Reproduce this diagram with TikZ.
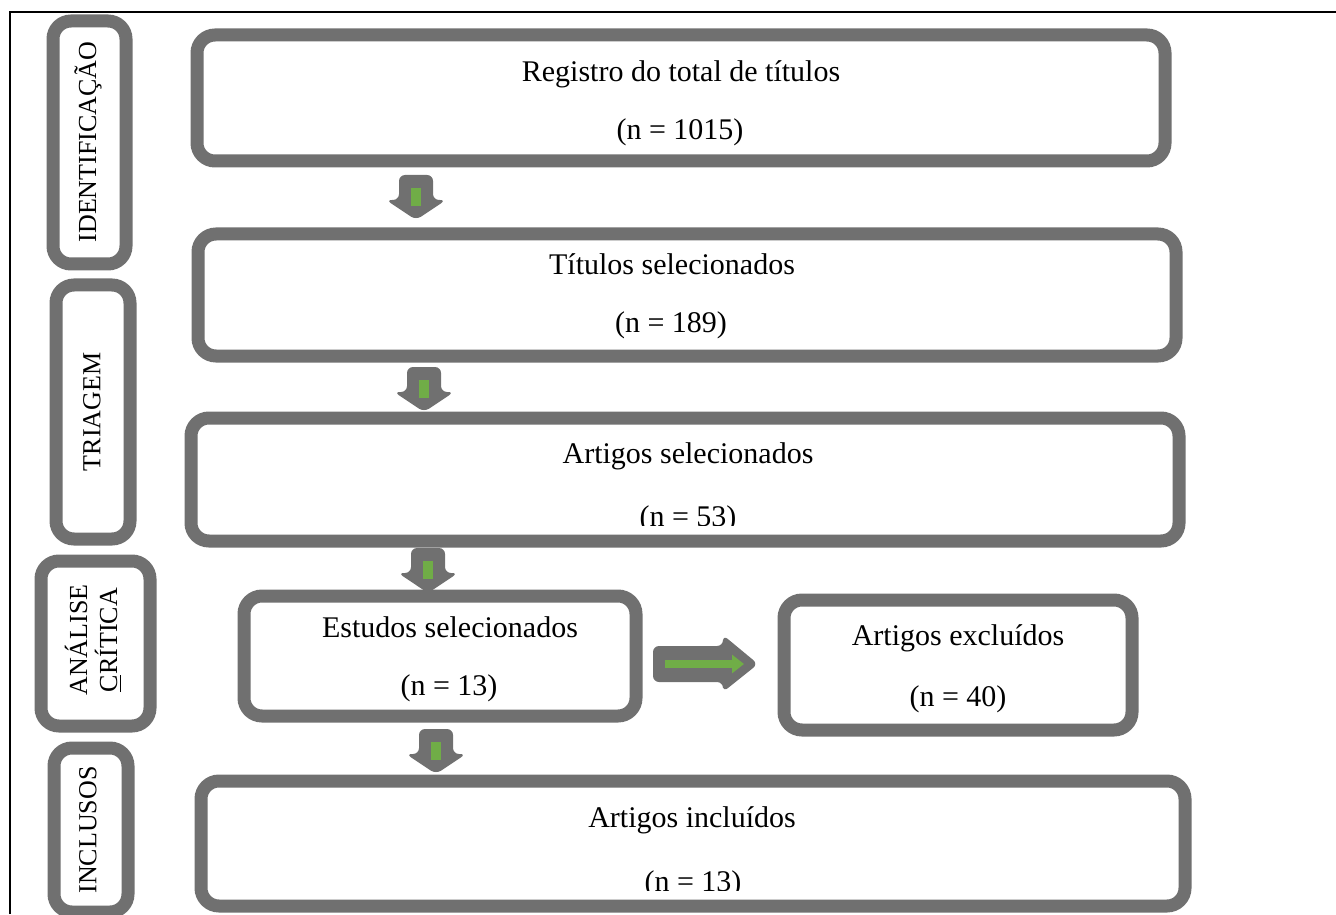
\documentclass[tikz,border=0pt]{standalone}
\usepackage{fontspec}
\setmainfont{Liberation Serif}
\usetikzlibrary{fit,arrows.meta}
\definecolor{boxgrey}{HTML}{707070}
\definecolor{arrgreen}{HTML}{70AD47}
\newcommand\myDownArrow[2]{%
  \fill[boxgrey, rounded corners=3pt] (#1-17,#2) -- (#1+17,#2) -- (#1+17,#2+25) -- (#1+30,#2+25) -- (#1,#2+45) -- (#1-30,#2+25) -- (#1-17,#2+25) -- cycle;
  \fill[arrgreen] (#1-5,#2+13) rectangle (#1+5,#2+31);}
\begin{document}
\begin{tikzpicture}[x=0.5pt,y=-0.5pt,
  box/.style={draw=boxgrey, line width=6.5pt, rounded corners=9pt, inner sep=0pt, fill=white},
  lbl/.style={font=\fontsize{15pt}{18pt}\selectfont, inner sep=0pt},
  side/.style={font=\fontsize{13pt}{15pt}\selectfont, rotate=90, inner sep=0pt, align=center}]
\useasboundingbox (0,0) rectangle (1336,914);
% frame
\draw[line width=1pt] (10,914) -- (10,12) -- (1336,12);
% side boxes
\node[box, fit={(53,21) (126,264)}] (s1) {};
\node[box, fit={(56,285) (130,539)}] (s2) {};
\node[box, fit={(41,561) (150,726)}] (s3) {};
\node[box, fit={(54,748) (128,912)}] (s4) {};
\node[side] (s1t) at (88,142) {IDENTIFICAÇÃO};
\node[side] (s2t) at (92,412) {TRIAGEM};
\node[side] (s3t) at (93,640) {ANÁLISE\\\underline{C}RÍTICA};
\node[side] (s4t) at (88,830) {INCLUSOS};
% main boxes
\node[box, fit={(197,35) (1165,161)}] (b1) {};
\node[box, fit={(198,234) (1176,356)}] (b2) {};
\node[box, fit={(191,418) (1179,541)}] (b3) {};
\node[box, fit={(244,596) (636,716)}] (b4) {};
\node[box, fit={(784,600) (1132,730)}] (b5) {};
\node[box, fit={(201,781) (1185,906)}] (b6) {};
% texts
\node[lbl] (t1a) at (681,74) {Registro do total de títulos};
\node[lbl] (t1b) at (680,132) {(n = 1015)};
\node[lbl] (t2a) at (672,264) {Títulos selecionados};
\node[lbl] (t2b) at (671,325) {(n = 189)};
\node[lbl] (t3a) at (688,456) {Artigos selecionados};
\begin{scope}
\clip (300,430) rectangle (1100,525);
\node[lbl] (t3b) at (688,519) {(n = 53)};
\end{scope}
\node[lbl] (t4a) at (450,627) {Estudos selecionados};
\node[lbl] (t4b) at (449,688) {(n = 13)};
\node[lbl] (t5a) at (958,638) {Artigos excluídos};
\node[lbl] (t5b) at (958,699) {(n = 40)};
\node[lbl] (t6a) at (692,820) {Artigos incluídos};
\begin{scope}
\clip (300,800) rectangle (1100,890);
\node[lbl] (t6b) at (693,884) {(n = 13)};
\end{scope}
% down arrows
\myDownArrow{416}{175}
\myDownArrow{424}{367}
\myDownArrow{428}{548}
\myDownArrow{436}{729}
% right arrow
\fill[boxgrey, rounded corners=3pt] (653,646) -- (723,646) -- (723,635) -- (758,664) -- (723,692) -- (723,682) -- (653,682) -- cycle;
\draw[arrgreen, line width=4pt, -{Triangle[length=6pt,width=9pt]}] (665,664) -- (744,664);
\end{tikzpicture}
\end{document}
